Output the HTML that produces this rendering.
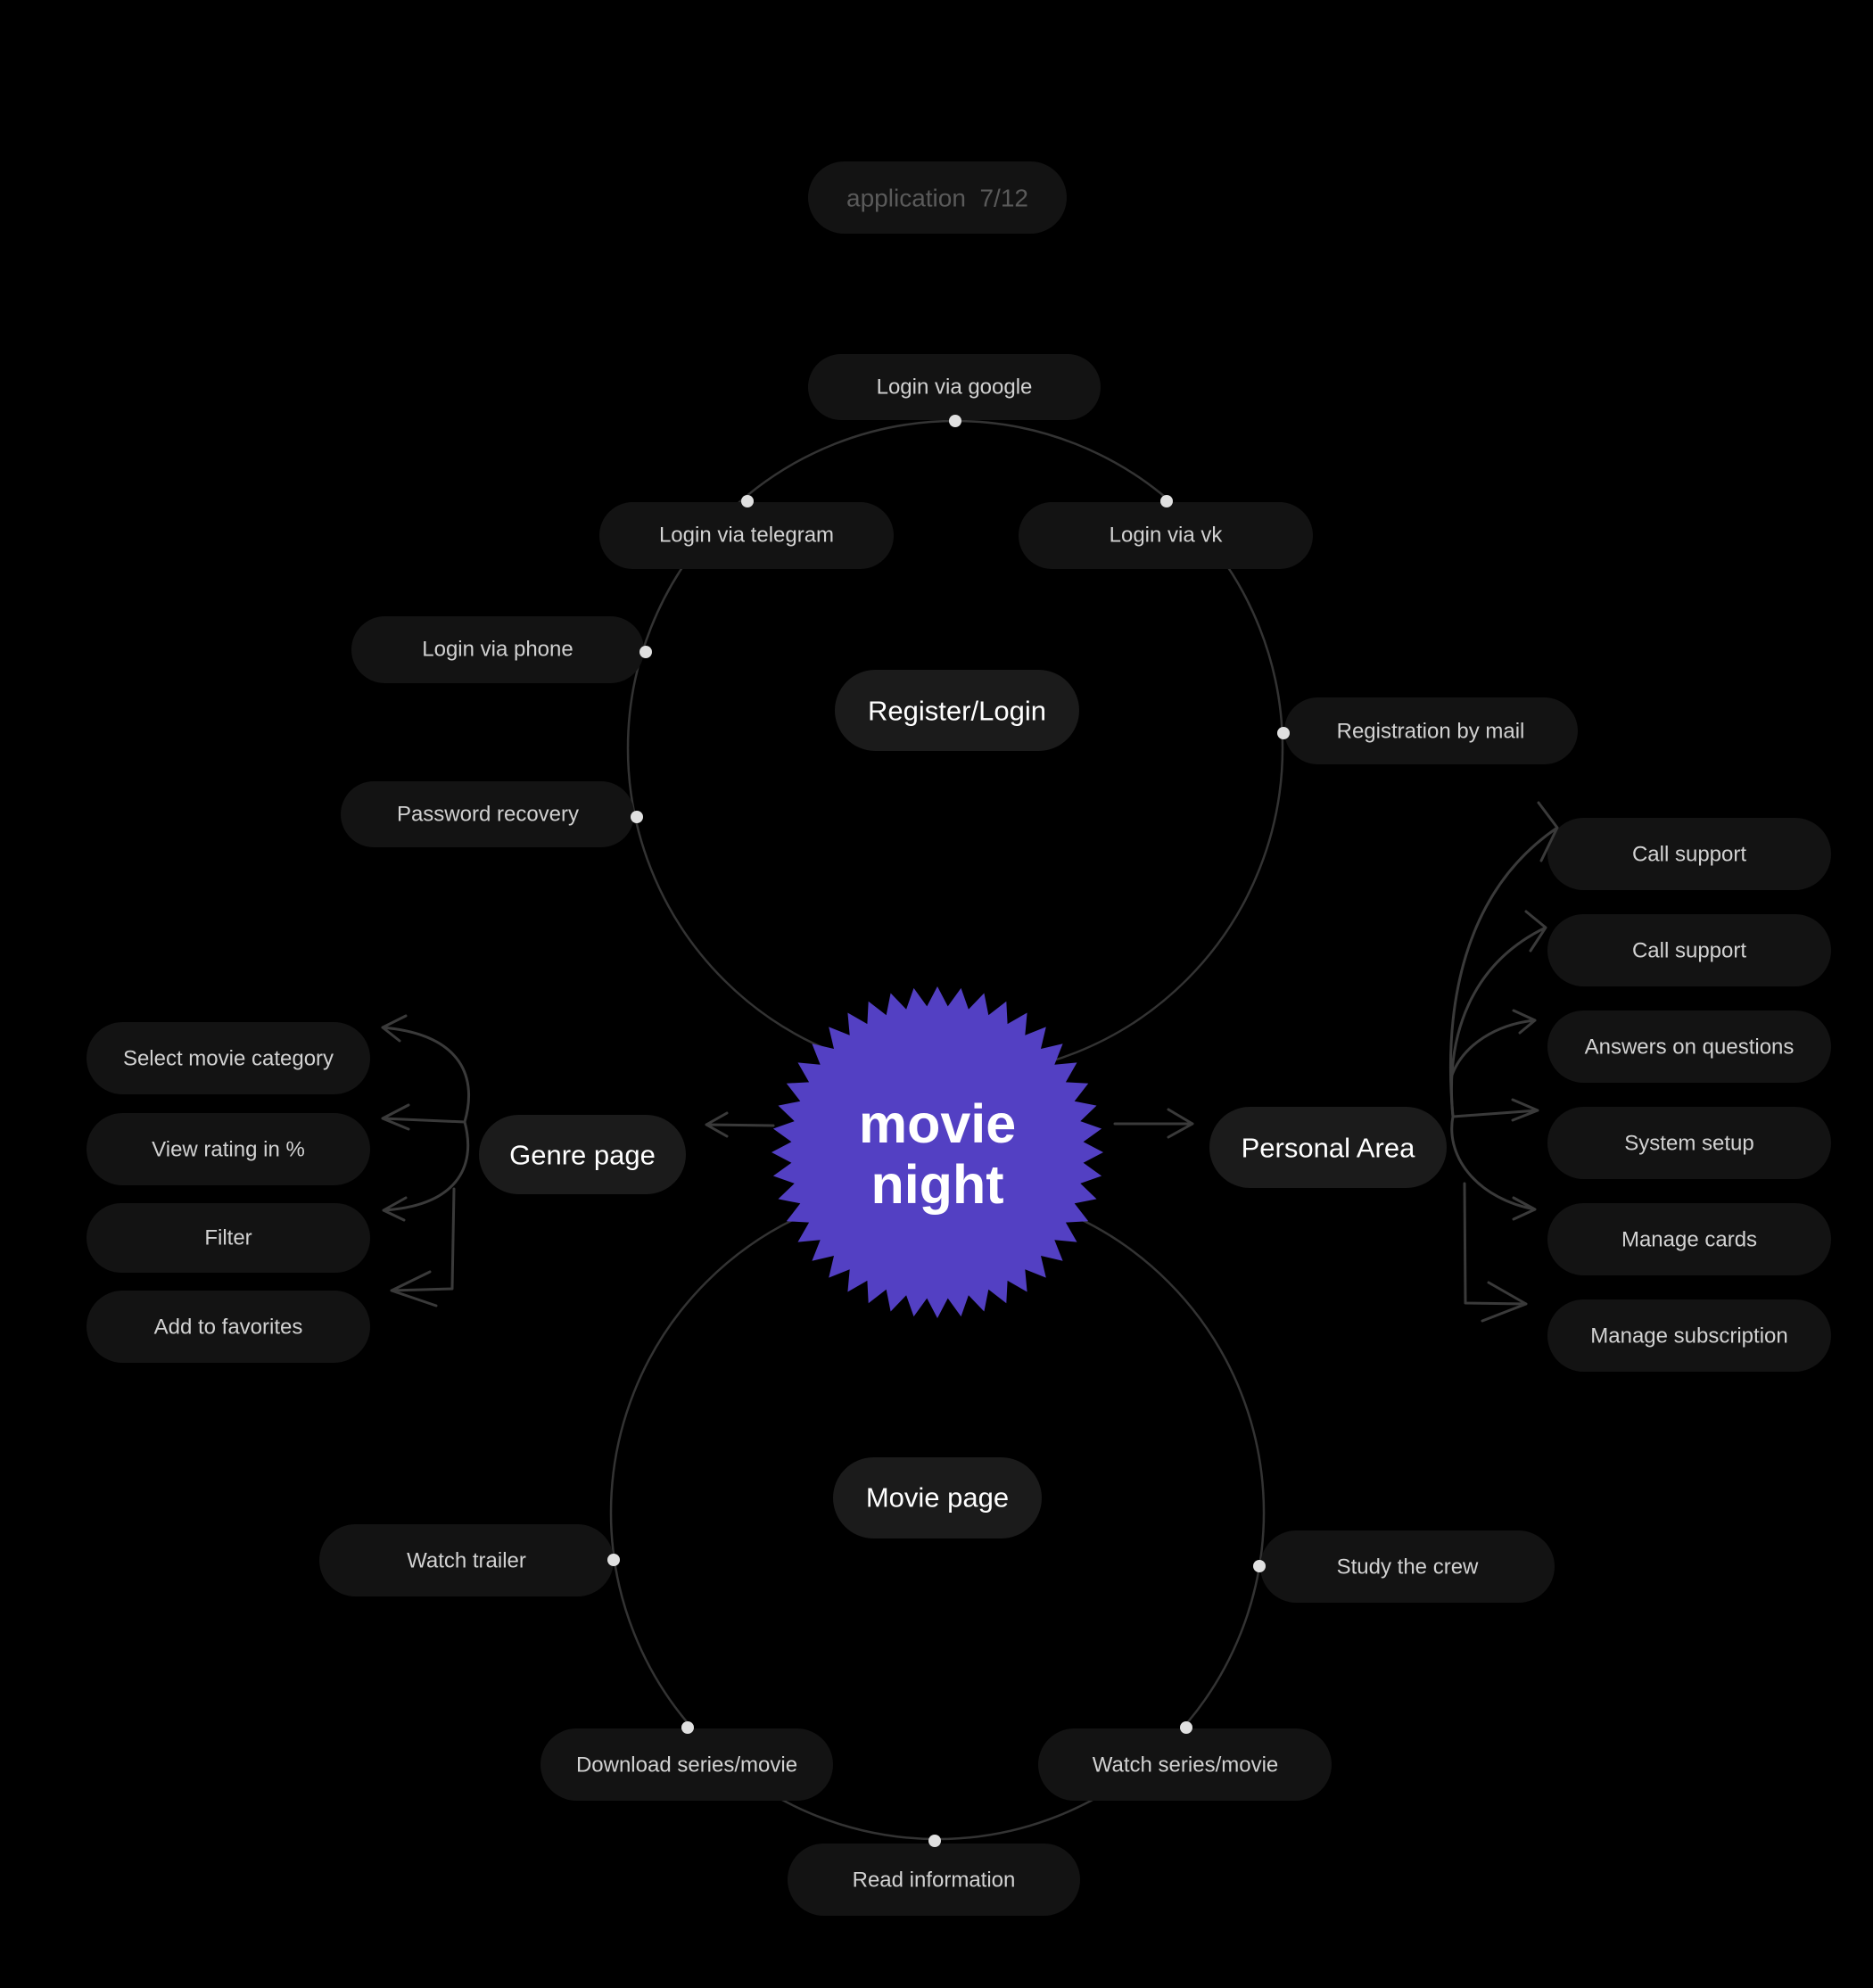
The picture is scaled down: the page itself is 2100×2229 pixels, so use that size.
<!DOCTYPE html>
<html><head><meta charset="utf-8"><style>
html,body{margin:0;padding:0;background:#000;}
svg{display:block}
text{font-family:"Liberation Sans",sans-serif;}
.s{font-size:24px;fill:#d2d2d2;text-anchor:middle;dominant-baseline:central}
.b{font-size:31px;fill:#fff;text-anchor:middle;dominant-baseline:central}
.p{fill:#131313}
.pb{fill:#1b1b1b}
.l{fill:none;stroke:#333;stroke-width:2.5}
.a{fill:none;stroke:#3a3a3a;stroke-width:3;stroke-linecap:round;stroke-linejoin:round}
.d{fill:#e0e0e0}
</style></head><body>
<svg width="2100" height="2229" viewBox="0 0 2100 2229" xmlns="http://www.w3.org/2000/svg">
<rect width="2100" height="2229" fill="#000"/>
<circle class="l" cx="1071" cy="839" r="367"/>
<circle class="l" cx="1051" cy="1696" r="366"/>

<rect class="p" x="906" y="181" width="290" height="81" rx="40.5"/>
<text x="1051" y="222" style="font-size:28px;fill:#5a5a5a;text-anchor:middle;dominant-baseline:central">application&#160; 7/12</text>

<rect class="p" x="906" y="397" width="328" height="74" rx="37"/><text class="s" x="1070" y="434">Login via google</text>
<rect class="p" x="672" y="563" width="330" height="75" rx="37.5"/><text class="s" x="837" y="600">Login via telegram</text>
<rect class="p" x="1142" y="563" width="330" height="75" rx="37.5"/><text class="s" x="1307" y="600">Login via vk</text>
<rect class="p" x="394" y="691" width="328" height="75" rx="37.5"/><text class="s" x="558" y="728">Login via phone</text>
<rect class="p" x="1440" y="782" width="329" height="75" rx="37.5"/><text class="s" x="1604" y="820">Registration by mail</text>
<rect class="p" x="382" y="876" width="329" height="74" rx="37"/><text class="s" x="547" y="913">Password recovery</text>
<rect class="pb" x="936" y="751" width="274" height="91" rx="45.5"/><text class="b" x="1073" y="797">Register/Login</text>

<circle class="d" cx="1071" cy="472" r="7"/>
<circle class="d" cx="838" cy="562" r="7"/>
<circle class="d" cx="1308" cy="562" r="7"/>
<circle class="d" cx="724" cy="731" r="7"/>
<circle class="d" cx="1439" cy="822" r="7"/>
<circle class="d" cx="714" cy="916" r="7"/>

<rect class="pb" x="934" y="1634" width="234" height="91" rx="45.5"/><text class="b" x="1051" y="1679">Movie page</text>
<rect class="p" x="358" y="1709" width="330" height="81" rx="40.5"/><text class="s" x="523" y="1750">Watch trailer</text>
<rect class="p" x="1413" y="1716" width="330" height="81" rx="40.5"/><text class="s" x="1578" y="1757">Study the crew</text>
<rect class="p" x="606" y="1938" width="328" height="81" rx="40.5"/><text class="s" x="770" y="1979">Download series/movie</text>
<rect class="p" x="1164" y="1938" width="329" height="81" rx="40.5"/><text class="s" x="1329" y="1979">Watch series/movie</text>
<rect class="p" x="883" y="2067" width="328" height="81" rx="40.5"/><text class="s" x="1047" y="2108">Read information</text>
<circle class="d" cx="688" cy="1749" r="7"/>
<circle class="d" cx="1412" cy="1756" r="7"/>
<circle class="d" cx="771" cy="1937" r="7"/>
<circle class="d" cx="1330" cy="1937" r="7"/>
<circle class="d" cx="1048" cy="2064" r="7"/>

<rect class="p" x="97" y="1146" width="318" height="81" rx="40.5"/><text class="s" x="256" y="1187">Select movie category</text>
<rect class="p" x="97" y="1248" width="318" height="81" rx="40.5"/><text class="s" x="256" y="1289">View rating in %</text>
<rect class="p" x="97" y="1349" width="318" height="78" rx="39"/><text class="s" x="256" y="1388">Filter</text>
<rect class="p" x="97" y="1447" width="318" height="81" rx="40.5"/><text class="s" x="256" y="1488">Add to favorites</text>
<rect class="pb" x="537" y="1250" width="232" height="89" rx="44.5"/><text class="b" x="653" y="1295">Genre page</text>

<path class="a" d="M521 1258 C535 1210 520 1160 429 1152 M455 1139 L429 1152 L448 1167"/>
<path class="a" d="M521 1258 L429 1254 M458 1239 L429 1254 L458 1266"/>
<path class="a" d="M521 1258 C535 1310 510 1352 430 1357 M455 1343 L430 1357 L453 1368"/>
<path class="a" d="M509 1333 L507 1445 L439 1447 M482 1426 L439 1447 L489 1464"/>
<path class="a" d="M867 1262 L792 1261 M815 1248 L792 1261 L815 1274"/>

<rect class="p" x="1735" y="917" width="318" height="81" rx="40.5"/><text class="s" x="1894" y="958">Call support</text>
<rect class="p" x="1735" y="1025" width="318" height="81" rx="40.5"/><text class="s" x="1894" y="1066">Call support</text>
<rect class="p" x="1735" y="1133" width="318" height="81" rx="40.5"/><text class="s" x="1894" y="1174">Answers on questions</text>
<rect class="p" x="1735" y="1241" width="318" height="81" rx="40.5"/><text class="s" x="1894" y="1282">System setup</text>
<rect class="p" x="1735" y="1349" width="318" height="81" rx="40.5"/><text class="s" x="1894" y="1390">Manage cards</text>
<rect class="p" x="1735" y="1457" width="318" height="81" rx="40.5"/><text class="s" x="1894" y="1498">Manage subscription</text>
<rect class="pb" x="1356" y="1241" width="266" height="91" rx="45.5"/><text class="b" x="1489" y="1287">Personal Area</text>

<path class="a" d="M1629 1252 C1618 1130 1640 1000 1746 928 M1725 900 L1746 928 L1728 965"/>
<path class="a" d="M1629 1252 C1620 1160 1650 1080 1733 1040 M1711 1022 L1733 1040 L1716 1066"/>
<path class="a" d="M1627 1208 C1640 1170 1680 1148 1721 1144 M1697 1133 L1721 1144 L1704 1158"/>
<path class="a" d="M1629 1252 L1724 1245 M1696 1233 L1724 1245 L1696 1256"/>
<path class="a" d="M1629 1252 C1620 1300 1660 1345 1721 1356 M1697 1343 L1721 1356 L1697 1367"/>
<path class="a" d="M1642 1327 L1643 1461 L1711 1462 M1669 1438 L1711 1462 L1662 1481"/>
<path class="a" d="M1250 1260 L1337 1260 M1310 1244 L1337 1260 L1310 1275"/>

<polygon id="star" fill="#5340c3" points=""/>
<text x="1051" y="1260" style="font-size:61px;font-weight:bold;fill:#fff;text-anchor:middle;dominant-baseline:central">movie</text>
<text x="1051" y="1328" style="font-size:61px;font-weight:bold;fill:#fff;text-anchor:middle;dominant-baseline:central">night</text>
</svg>
<script>
(function(){var n=44,cx=1051,cy=1292,R=186,r=164,p=[];
for(var i=0;i<2*n;i++){var a=-Math.PI/2+i*Math.PI/n,rr=i%2?r:R;p.push((cx+rr*Math.cos(a)).toFixed(1)+","+(cy+rr*Math.sin(a)).toFixed(1));}
document.getElementById("star").setAttribute("points",p.join(" "));})();
</script>
</body></html>
